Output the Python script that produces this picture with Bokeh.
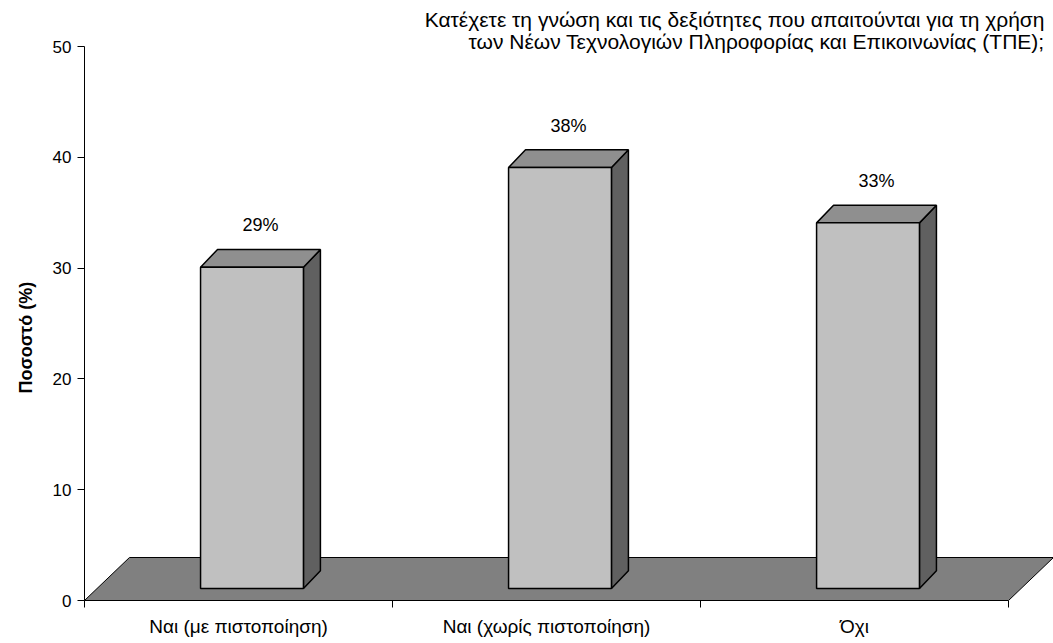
from bokeh.plotting import figure
from bokeh.models import Range1d, FixedTicker, Label, Title
from bokeh.embed import file_html
from bokeh.resources import INLINE

# ---- data ----
categories = ["Ναι (με πιστοποίηση)", "Ναι (χωρίς πιστοποίηση)", "Όχι"]
values = [29, 38, 33]
value_labels = ["29%", "38%", "33%"]
yticks = [0, 10, 20, 30, 40, 50]
title_lines = ["Κατέχετε τη γνώση και τις δεξιότητες που απαιτούνται για τη χρήση",
               "των Νέων Τεχνολογιών Πληροφορίας και Επικοινωνίας (ΤΠΕ);"]
y_title = "Ποσοστό (%)"

FONT = "Liberation Sans"

# ---- layout / scale constants (pixels) ----
W, H = 1053, 643
LEFT, BOTTOM = 83, 43
FRAME_W = W - LEFT
FRAME_H = H - BOTTOM
PX_X = 308.33          # px per category
PX_Y = 11.08           # px per percent unit
n = len(categories)

x_end = FRAME_W / PX_X
y_end = FRAME_H / PX_Y

# 3D styling offsets (in data units)
FLOOR_DX, FLOOR_DY = 45 / PX_X, 43 / PX_Y
BAR_BASE = 12 / PX_Y
BAR_SHIFT = 13.5 / PX_X
BAR_HALF = 0.167
BAR_DX, BAR_DY = 17 / PX_X, 17.7 / PX_Y
LABEL_GAP = 24 / PX_Y

p = figure(width=W, height=H, output_backend="svg", toolbar_location=None,
           x_range=Range1d(0, x_end), y_range=Range1d(0, y_end),
           min_border_left=LEFT, min_border_right=0, min_border_top=0,
           min_border_bottom=BOTTOM, background_fill_color="white",
           border_fill_color="white")
p.outline_line_color = None
p.grid.visible = False

# floor
p.patch([0, n, n + FLOOR_DX, FLOOR_DX], [0, 0, FLOOR_DY, FLOOR_DY],
        fill_color="#808080", line_color="black", line_width=1)

# bars
centers = [i + 0.5 + BAR_SHIFT for i in range(n)]
lefts = [c - BAR_HALF for c in centers]
rights = [c + BAR_HALF for c in centers]
tops = [BAR_BASE + v for v in values]
bottoms = [BAR_BASE] * n

side_xs = [[r, r + BAR_DX, r + BAR_DX, r] for r in rights]
side_ys = [[b, b + BAR_DY, t + BAR_DY, t] for b, t in zip(bottoms, tops)]
top_xs = [[l, l + BAR_DX, r + BAR_DX, r] for l, r in zip(lefts, rights)]
top_ys = [[t, t + BAR_DY, t + BAR_DY, t] for t in tops]

p.patches(side_xs, side_ys, fill_color="#606060", line_color="black", line_width=1.5)
p.patches(top_xs, top_ys, fill_color="#8F8F8F", line_color="black", line_width=1.5)
p.quad(left=lefts, right=rights, bottom=bottoms, top=tops,
       fill_color="#C0C0C0", line_color="black", line_width=1.5)

# value labels
p.text(x=[c + BAR_DX / 2 for c in centers], y=[t + BAR_DY + LABEL_GAP for t in tops],
       text=value_labels, text_align="center", text_baseline="alphabetic",
       text_font={"value": FONT}, text_font_size="18px", text_color="black")

# chart title (two right-aligned lines)
tx = (1044 - LEFT) / PX_X
for line, ypx in zip(title_lines, [18.5, 41]):
    p.add_layout(Label(x=tx, y=(FRAME_H - ypx) / PX_Y, text=line, text_align="right",
                       text_baseline="alphabetic", text_font=FONT,
                       text_font_size="21px", text_color="black"))

# x axis
xa = p.xaxis[0]
xa.ticker = FixedTicker(ticks=[i + 0.5 for i in range(n)], minor_ticks=list(range(n + 1)))
xa.major_label_overrides = {i + 0.5: c for i, c in enumerate(categories)}
xa.bounds = (0, n)
xa.major_tick_line_color = None
xa.major_tick_out = 7
xa.major_tick_in = 0
xa.minor_tick_out = 7
xa.minor_tick_in = 0
xa.minor_tick_line_color = "black"
xa.axis_line_color = "black"
xa.major_label_standoff = 8
xa.major_label_text_font = FONT
xa.major_label_text_font_size = "19px"
xa.major_label_text_color = "black"

# y axis
ya = p.yaxis[0]
ya.ticker = FixedTicker(ticks=yticks, minor_ticks=[])
ya.bounds = (yticks[0], yticks[-1])
ya.major_tick_out = 7
ya.major_tick_in = 0
ya.minor_tick_line_color = None
ya.axis_line_color = "black"
ya.major_tick_line_color = "black"
ya.major_label_standoff = 6
ya.major_label_text_font = FONT
ya.major_label_text_font_size = "17px"
ya.major_label_text_color = "black"

# y axis title (left side, positioned along the axis)
p.add_layout(Title(text=y_title, align="left", offset=207, standoff=27,
                   text_font=FONT, text_font_style="bold", text_font_size="18px",
                   text_color="black"), "left")

open("out.html", "w").write(file_html(p, INLINE))
